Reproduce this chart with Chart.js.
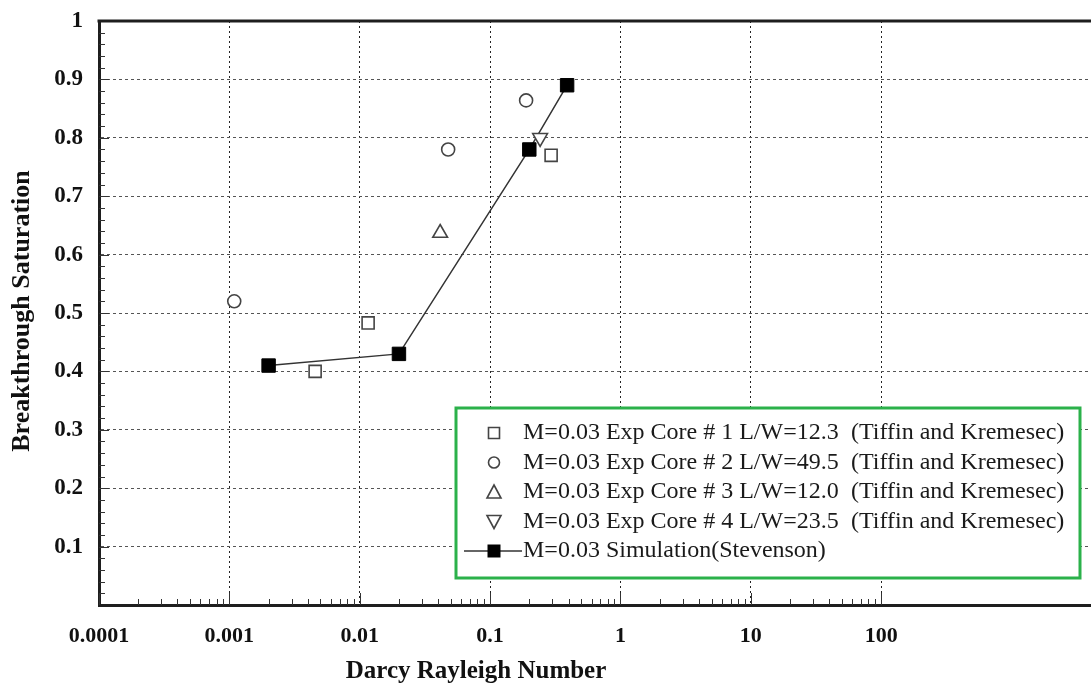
<!DOCTYPE html>
<html>
<head>
<meta charset="utf-8">
<script src="https://cdn.jsdelivr.net/npm/chart.js@4.4.1/dist/chart.umd.min.js"></script>
<style>
  html, body { margin: 0; padding: 0; background: #ffffff; }
  #wrap { width: 1091px; height: 686px; position: relative; }
</style>
</head>
<body>
<div id="wrap"><canvas id="grafico" width="1091" height="686"></canvas></div>
<script>
// valores
const core1X = [0.00455, 0.0116, 0.294];
const core1Y = [0.40, 0.483, 0.77];
const core2X = [0.00109, 0.0477, 0.189];
const core2Y = [0.52, 0.78, 0.864];
const core3X = [0.0414];
const core3Y = [0.637];
const core4X = [0.242];
const core4Y = [0.80];
const simX = [0.002, 0.02, 0.2, 0.39];
const simY = [0.41, 0.43, 0.78, 0.89];

const xTickValues = [0.0001, 0.001, 0.01, 0.1, 1, 10, 100];
const xTickLabels = ['0.0001', '0.001', '0.01', '0.1', '1', '10', '100'];
const yTickLabels = ['0.1', '0.2', '0.3', '0.4', '0.5', '0.6', '0.7', '0.8', '0.9', '1'];

const legendLeft = [
  'M=0.03 Exp Core # 1 L/W=12.3',
  'M=0.03 Exp Core # 2 L/W=49.5',
  'M=0.03 Exp Core # 3 L/W=12.0',
  'M=0.03 Exp Core # 4 L/W=23.5',
  'M=0.03 Simulation'
];
const legendRight = ['(Tiffin and Kremesec)', '(Tiffin and Kremesec)', '(Tiffin and Kremesec)', '(Tiffin and Kremesec)', '(Stevenson)'];

const xTitle = 'Darcy Rayleigh Number';
const yTitle = 'Breakthrough Saturation';

const INK = '#1e1e1e';
const SERIF = '"Liberation Serif", "Times New Roman", serif';

function pares(xs, ys) {
    return xs.map((x, i) => ({ x: x, y: ys[i] }));
}

function openStyle(style, radius, rotation) {
    return {
        showLine: false,
        pointStyle: style,
        pointRadius: radius,
        pointHoverRadius: radius,
        pointRotation: rotation || 0,
        pointBackgroundColor: '#ffffff',
        pointBorderColor: '#444',
        pointBorderWidth: 1.6
    };
}

// desenha um marcador simples no canvas (usado na legenda)
function marcador(ctx, tipo, x, y) {
    ctx.save();
    ctx.lineWidth = 1.6;
    ctx.strokeStyle = '#444';
    ctx.fillStyle = '#ffffff';
    ctx.beginPath();
    if (tipo === 'square') {
        ctx.rect(x - 5.5, y - 5.5, 11, 11);
    } else if (tipo === 'circle') {
        ctx.arc(x, y, 5.5, 0, Math.PI * 2);
    } else if (tipo === 'up') {
        ctx.moveTo(x, y - 7); ctx.lineTo(x + 7, y + 6); ctx.lineTo(x - 7, y + 6); ctx.closePath();
    } else if (tipo === 'down') {
        ctx.moveTo(x, y + 7); ctx.lineTo(x + 7, y - 6); ctx.lineTo(x - 7, y - 6); ctx.closePath();
    } else if (tipo === 'sim') {
        ctx.strokeStyle = '#333';
        ctx.lineWidth = 1.5;
        ctx.moveTo(x - 30, y); ctx.lineTo(x + 28, y);
        ctx.stroke();
        ctx.beginPath();
        ctx.fillStyle = '#000';
        ctx.rect(x - 6.5, y - 6.5, 13, 13);
        ctx.fill();
        ctx.restore();
        return;
    }
    ctx.fill();
    ctx.stroke();
    ctx.restore();
}

const extrasPlugin = {
    id: 'extras',
    beforeDatasetsDraw(chart) {
        const ctx = chart.ctx;
        const area = chart.chartArea;
        const xs = chart.scales.x;
        const ys = chart.scales.y;
        ctx.save();
        ctx.strokeStyle = '#333';
        ctx.lineWidth = 1;
        // marcas menores do eixo x (só até 100)
        for (let d = -4; d < 2; d++) {
            for (let m = 1; m <= 10; m++) {
                const v = m * Math.pow(10, d);
                const px = Math.round(xs.getPixelForValue(v)) + 0.5;
                const len = (m === 1 || m === 10) ? 12 : 6;
                ctx.beginPath();
                ctx.moveTo(px, area.bottom);
                ctx.lineTo(px, area.bottom - len);
                ctx.stroke();
            }
        }
        // marcas menores do eixo y
        for (let i = 1; i < 50; i++) {
            const py = Math.round(ys.getPixelForValue(i * 0.02)) + 0.5;
            const len = (i % 5 === 0) ? 10 : 6;
            ctx.beginPath();
            ctx.moveTo(area.left, py);
            ctx.lineTo(area.left + len, py);
            ctx.stroke();
        }
        ctx.restore();
    },
    afterDraw(chart) {
        const ctx = chart.ctx;
        const area = chart.chartArea;
        ctx.save();
        // borda superior
        ctx.strokeStyle = INK;
        ctx.lineWidth = 3;
        ctx.beginPath();
        ctx.moveTo(area.left - 1.5, area.top);
        ctx.lineTo(chart.width, area.top);
        ctx.stroke();

        // títulos dos eixos
        ctx.fillStyle = '#111';
        ctx.font = 'bold 25px ' + SERIF;
        ctx.textAlign = 'center';
        ctx.textBaseline = 'middle';
        ctx.fillText(xTitle, 476, 672);
        ctx.translate(22, 311);
        ctx.rotate(-Math.PI / 2);
        ctx.font = 'bold 26px ' + SERIF;
        ctx.fillText(yTitle, 0, 0);
        ctx.restore();

        // legenda
        ctx.save();
        const bx = 456, by = 408, bw = 624, bh = 170;
        ctx.fillStyle = '#ffffff';
        ctx.fillRect(bx, by, bw, bh);
        ctx.strokeStyle = '#2bb14a';
        ctx.lineWidth = 3;
        ctx.strokeRect(bx, by, bw, bh);
        const tipos = ['square', 'circle', 'up', 'down', 'sim'];
        ctx.font = '24px ' + SERIF;
        ctx.fillStyle = '#1a1a1a';
        ctx.textBaseline = 'middle';
        ctx.textAlign = 'left';
        for (let i = 0; i < legendLeft.length; i++) {
            const ry = 433 + i * 29.5;
            marcador(ctx, tipos[i], 494, ry);
            ctx.fillText(legendLeft[i], 523, ry);
            const rx = (i === 4) ? 523 + ctx.measureText(legendLeft[i]).width : 851;
            ctx.fillText(legendRight[i], rx, ry);
        }
        ctx.restore();
    }
};

new Chart(document.getElementById('grafico'), {
    type: 'scatter',
    data: {
        datasets: [
            Object.assign({ label: legendLeft[0], data: pares(core1X, core1Y) }, openStyle('rect', 8.5)),
            Object.assign({ label: legendLeft[1], data: pares(core2X, core2Y) }, openStyle('circle', 6.5)),
            Object.assign({ label: legendLeft[2], data: pares(core3X, core3Y) }, openStyle('triangle', 8.5)),
            Object.assign({ label: legendLeft[3], data: pares(core4X, core4Y) }, openStyle('triangle', 8.5, 180)),
            {
                label: legendLeft[4],
                data: pares(simX, simY),
                showLine: true,
                borderColor: '#333',
                borderWidth: 1.5,
                pointStyle: 'rect',
                pointRadius: 9.5,
                pointHoverRadius: 9.5,
                pointBackgroundColor: '#000',
                pointBorderColor: '#000',
                pointBorderWidth: 1
            }
        ]
    },
    options: {
        responsive: false,
        animation: false,
        layout: { autoPadding: false, padding: { top: 21, right: 0, left: 0, bottom: 0 } },
        plugins: {
            legend: { display: false },
            tooltip: { enabled: false }
        },
        scales: {
            x: {
                type: 'logarithmic',
                min: 0.0001,
                max: Math.pow(10, 3.61),
                afterFit: s => { s.height = 81; s.paddingLeft = 0; s.paddingRight = 0; },
                afterBuildTicks: s => { s.ticks = xTickValues.map(v => ({ value: v })); },
                border: { display: true, color: INK, width: 3, dash: [2, 3] },
                grid: {
                    drawTicks: false,
                    color: ctx => (ctx.index === 0 ? 'rgba(0,0,0,0)' : '#222'),
                    lineWidth: 1
                },
                ticks: {
                    autoSkip: false,
                    maxRotation: 0,
                    padding: 18,
                    color: '#111',
                    font: { family: SERIF, size: 22, weight: 'bold' },
                    callback: (v, i) => xTickLabels[i]
                }
            },
            y: {
                min: 0,
                max: 1,
                afterFit: s => { s.width = 99; s.paddingTop = 0; s.paddingBottom = 0; },
                afterBuildTicks: s => { s.ticks = [0].concat(yTickLabels.map(Number)).map(v => ({ value: v })); },
                border: { display: true, color: INK, width: 3, dash: [3, 3] },
                grid: {
                    drawTicks: false,
                    color: ctx => ((ctx.index === 0 || ctx.index === 10) ? 'rgba(0,0,0,0)' : '#555'),
                    lineWidth: 1
                },
                ticks: {
                    padding: 16,
                    color: '#111',
                    font: { family: SERIF, size: 23, weight: 'bold' },
                    callback: (v, i) => (i === 0 ? '' : yTickLabels[i - 1])
                }
            }
        }
    },
    plugins: [extrasPlugin]
});
</script>
</body>
</html>
